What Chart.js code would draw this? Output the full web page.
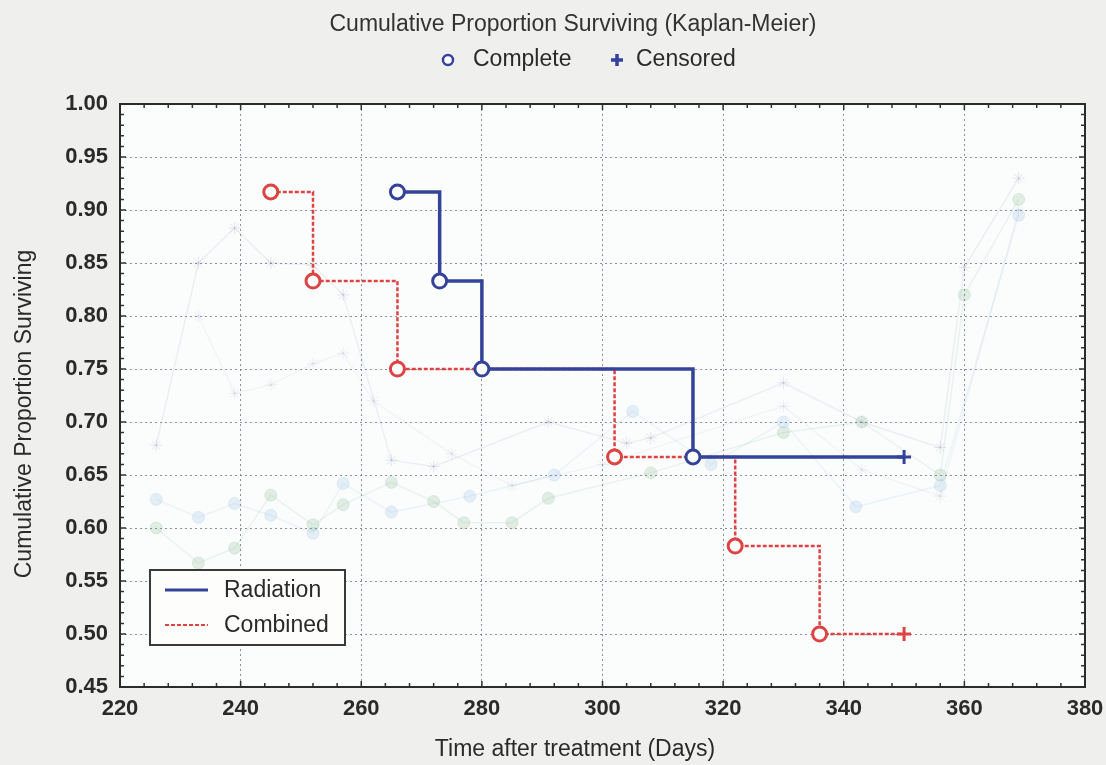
<!DOCTYPE html>
<html>
<head>
<meta charset="utf-8">
<script src="https://cdn.jsdelivr.net/npm/chart.js@4.4.1/dist/chart.umd.min.js"></script>
<style>
  html, body { margin: 0; padding: 0; background: #efefed; }
  #wrap { width: 1106px; height: 765px; }
</style>
</head>
<body>
<div id="wrap"><canvas id="km"></canvas></div>
<script>
// Kaplan-Meier estimates
const radDays = [266, 273, 280, 315, 350];
const radSurv = [0.917, 0.833, 0.75, 0.667, 0.667];
const radCens = [0, 0, 0, 0, 1];

const combDays = [245, 252, 266, 302, 322, 336, 350];
const combSurv = [0.917, 0.833, 0.75, 0.667, 0.583, 0.5, 0.5];
const combCens = [0, 0, 0, 0, 0, 0, 1];

// faint lines showing through from the page behind
const ghostADays = [226, 233, 239, 245, 252, 257, 265, 272, 291, 304, 308, 330, 343, 356, 360, 369];
const ghostAVals = [0.678, 0.85, 0.883, 0.85, 0.848, 0.82, 0.664, 0.658, 0.70, 0.68, 0.685, 0.737, 0.70, 0.676, 0.846, 0.93];
const ghostBDays = [233, 239, 245, 252, 257, 262, 275, 285, 300, 330, 343, 356, 369];
const ghostBVals = [0.80, 0.727, 0.735, 0.755, 0.765, 0.72, 0.67, 0.64, 0.66, 0.715, 0.655, 0.63, 0.90];
const ghostCDays = [226, 233, 239, 245, 252, 257, 265, 278, 292, 305, 318, 330, 342, 356, 369];
const ghostCVals = [0.627, 0.61, 0.623, 0.612, 0.595, 0.642, 0.615, 0.63, 0.65, 0.71, 0.66, 0.70, 0.62, 0.64, 0.895];
const ghostDDays = [226, 233, 239, 245, 252, 257, 265, 272, 277, 285, 291, 308, 330, 343, 356, 360, 369];
const ghostDVals = [0.60, 0.567, 0.581, 0.631, 0.603, 0.622, 0.643, 0.625, 0.605, 0.605, 0.628, 0.652, 0.69, 0.70, 0.65, 0.82, 0.91];

const xTicks = [220, 240, 260, 280, 300, 320, 340, 360, 380];
const yTicks = [0.45, 0.50, 0.55, 0.60, 0.65, 0.70, 0.75, 0.80, 0.85, 0.90, 0.95, 1.00];

const BLUE = '#34439a';
const RED = '#dc4343';
const INK = '#2a2a2a';
const FONT = "'Liberation Sans', Arial, sans-serif";

const pts = (xs, ys) => xs.map((x, i) => ({ x: x, y: ys[i] }));
const styles = cens => cens.map(c => c ? 'cross' : 'circle');

function ghost(xs, ys, col, dot, shape) {
  return {
    label: '', data: pts(xs, ys), borderColor: col, backgroundColor: dot,
    borderWidth: 1.5, pointStyle: shape, pointRadius: 6, pointBorderWidth: 1,
    pointBorderColor: dot, order: 10
  };
}

const paper = {
  id: 'paper',
  beforeDraw(chart) {
    const { ctx, chartArea: a } = chart;
    ctx.save();
    ctx.fillStyle = '#efefed';
    ctx.fillRect(0, 0, chart.width, chart.height);
    ctx.fillStyle = '#fbfcfc';
    ctx.fillRect(a.left, a.top, a.right - a.left, a.bottom - a.top);
    ctx.restore();
  },
  afterDraw(chart) {
    const { ctx, chartArea: a, scales } = chart;
    ctx.save();
    // minor ticks, inside the frame on all sides
    ctx.strokeStyle = '#333';
    ctx.lineWidth = 1.5;
    ctx.beginPath();
    for (let d = 220; d <= 380; d += 4) {
      const px = scales.x.getPixelForValue(d);
      const len = d % 20 === 0 ? 6 : 4;
      ctx.moveTo(px, a.bottom); ctx.lineTo(px, a.bottom - len);
      ctx.moveTo(px, a.top); ctx.lineTo(px, a.top + len);
    }
    for (let k = 45; k <= 100; k++) {
      const py = scales.y.getPixelForValue(k / 100);
      const len = k % 5 === 0 ? 6 : 4;
      ctx.moveTo(a.left, py); ctx.lineTo(a.left + len, py);
      ctx.moveTo(a.right, py); ctx.lineTo(a.right - len, py);
    }
    ctx.stroke();
    ctx.strokeStyle = '#2b2b2b';
    ctx.lineWidth = 2;
    ctx.strokeRect(a.left, a.top, a.right - a.left, a.bottom - a.top);

    ctx.font = '23px ' + FONT;
    ctx.textBaseline = 'middle';

    // title and axis titles
    ctx.textAlign = 'center';
    ctx.fillStyle = '#333';
    ctx.fillText('Cumulative Proportion Surviving (Kaplan-Meier)', 573, 25);
    ctx.fillStyle = INK;
    ctx.fillText('Time after treatment (Days)', 575, 750);
    ctx.save();
    ctx.translate(25, 414);
    ctx.rotate(-Math.PI / 2);
    ctx.fillText('Cumulative Proportion Surviving', 0, 0);
    ctx.restore();

    // marker key under the title
    ctx.textAlign = 'left';
    const ky = 60;
    ctx.strokeStyle = BLUE;
    ctx.lineWidth = 2.5;
    ctx.fillStyle = '#fff';
    ctx.beginPath(); ctx.arc(448, ky, 5, 0, Math.PI * 2); ctx.fill(); ctx.stroke();
    ctx.lineWidth = 3.5;
    ctx.beginPath();
    ctx.moveTo(611, ky); ctx.lineTo(623, ky);
    ctx.moveTo(617, ky - 6); ctx.lineTo(617, ky + 6);
    ctx.stroke();
    ctx.fillStyle = INK;
    ctx.fillText('Complete', 473, ky);
    ctx.fillText('Censored', 636, ky);

    // series legend box, bottom left of the plot
    const bx = a.left + 30, by = a.bottom - 117, bw = 195, bh = 75;
    ctx.fillStyle = '#fdfdfc';
    ctx.fillRect(bx, by, bw, bh);
    ctx.strokeStyle = '#3a3a3a';
    ctx.lineWidth = 2;
    ctx.strokeRect(bx, by, bw, bh);
    ctx.lineWidth = 3;
    ctx.strokeStyle = BLUE;
    ctx.beginPath(); ctx.moveTo(bx + 15, by + 20); ctx.lineTo(bx + 58, by + 20); ctx.stroke();
    ctx.lineWidth = 2;
    ctx.strokeStyle = RED;
    ctx.setLineDash([4, 2]);
    ctx.beginPath(); ctx.moveTo(bx + 15, by + 55); ctx.lineTo(bx + 58, by + 55); ctx.stroke();
    ctx.setLineDash([]);
    ctx.fillStyle = INK;
    ctx.fillText('Radiation', bx + 74, by + 21);
    ctx.fillText('Combined', bx + 74, by + 56);
    ctx.restore();
  }
};

new Chart(document.getElementById('km'), {
  type: 'line',
  data: {
    datasets: [
      {
        label: 'Radiation',
        data: pts(radDays, radSurv),
        stepped: 'before',
        borderColor: BLUE,
        borderWidth: 3.5,
        pointStyle: styles(radCens),
        pointRadius: 7,
        pointBorderWidth: 3,
        pointBorderColor: BLUE,
        pointBackgroundColor: '#ffffff',
        order: 1
      },
      {
        label: 'Combined',
        data: pts(combDays, combSurv),
        stepped: 'before',
        borderColor: RED,
        borderWidth: 2.5,
        borderDash: [4, 2],
        pointStyle: styles(combCens),
        pointRadius: 7,
        pointBorderWidth: 3,
        pointBorderColor: RED,
        pointBackgroundColor: '#ffffff',
        order: 2
      },
      ghost(ghostADays, ghostAVals, 'rgba(110,125,165,0.11)', 'rgba(110,125,165,0.18)', 'star'),
      ghost(ghostBDays, ghostBVals, 'rgba(140,150,185,0.09)', 'rgba(140,150,185,0.14)', 'star'),
      ghost(ghostCDays, ghostCVals, 'rgba(110,165,215,0.10)', 'rgba(110,165,215,0.16)', 'circle'),
      ghost(ghostDDays, ghostDVals, 'rgba(100,165,115,0.11)', 'rgba(100,165,115,0.17)', 'circle')
    ]
  },
  options: {
    responsive: true,
    maintainAspectRatio: false,
    animation: false,
    layout: { padding: { top: 104, right: 21, left: 11, bottom: 1 } },
    plugins: {
      title: { display: false },
      legend: { display: false },
      tooltip: { enabled: false }
    },
    scales: {
      x: {
        type: 'linear',
        min: 220, max: 380,
        afterBuildTicks: s => { s.ticks = xTicks.map(v => ({ value: v })); },
        afterFit: s => { s.height = 77; s.paddingRight = 0; s.paddingLeft = 0; },
        ticks: {
          color: INK,
          font: { family: FONT, size: 22, weight: 'bold' },
          padding: 9,
          maxRotation: 0
        },
        grid: { color: 'rgba(100,110,130,0.75)', lineWidth: 1, drawTicks: false },
        border: { display: false, dash: [2, 3] }
      },
      y: {
        type: 'linear',
        min: 0.45, max: 1.0,
        afterBuildTicks: s => { s.ticks = yTicks.map(v => ({ value: v })); },
        afterFit: s => { s.width = 109; s.paddingTop = 0; s.paddingBottom = 0; },
        ticks: {
          color: INK,
          font: { family: FONT, size: 22, weight: 'bold' },
          padding: 12,
          callback: v => v.toFixed(2)
        },
        grid: { color: 'rgba(100,110,130,0.75)', lineWidth: 1, drawTicks: false },
        border: { display: false, dash: [2, 3] }
      }
    }
  },
  plugins: [paper]
});
</script>
</body>
</html>
